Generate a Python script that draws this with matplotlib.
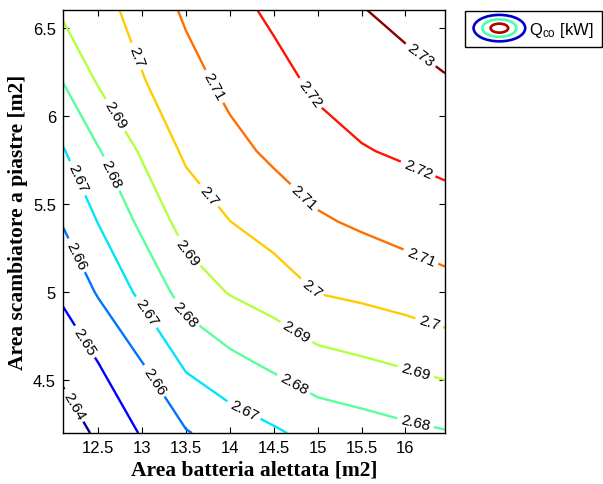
import numpy as np
import matplotlib
matplotlib.use('Agg')
import matplotlib.pyplot as plt
from matplotlib.ticker import FormatStrFormatter
from matplotlib.legend_handler import HandlerBase
from matplotlib.patches import Ellipse
from matplotlib.lines import Line2D

# griglia (area batteria alettata x area scambiatore a piastre)
area_batt = [12.1, 12.5, 13.0, 13.5, 14.0, 14.5, 15.0, 15.5, 16.0, 16.45]
area_scamb = [4.2, 4.6, 5.0, 5.4, 5.8, 6.2, 6.6]

# Q_co [kW], una riga per ogni valore di area_scamb
q_co = [
    [2.6343, 2.6417, 2.6508, 2.6593, 2.6645, 2.6686, 2.6732, 2.6753, 2.6776, 2.6793],
    [2.6430, 2.6500, 2.6599, 2.6717, 2.6774, 2.6820, 2.6866, 2.6888, 2.6911, 2.6935],
    [2.6518, 2.6609, 2.6724, 2.6841, 2.6906, 2.6946, 2.7003, 2.7021, 2.7043, 2.7067],
    [2.6607, 2.6703, 2.6822, 2.6941, 2.6999, 2.7044, 2.7088, 2.7114, 2.7139, 2.7158],
    [2.6693, 2.6792, 2.6913, 2.7017, 2.7072, 2.7118, 2.7160, 2.7194, 2.7213, 2.7230],
    [2.6803, 2.6910, 2.6994, 2.7066, 2.7126, 2.7167, 2.7220, 2.7246, 2.7270, 2.7294],
    [2.6917, 2.6964, 2.7038, 2.7114, 2.7168, 2.7219, 2.7269, 2.7296, 2.7327, 2.7351],
]

livelli = [2.64, 2.65, 2.66, 2.67, 2.68, 2.69, 2.70, 2.71, 2.72, 2.73]

# posizioni delle etichette delle curve
pos_etichette = [
    (12.20, 4.35), (12.32, 4.71),
    (12.22, 5.20), (13.12, 4.49),
    (12.24, 5.64), (13.00, 4.87), (14.16, 4.33),
    (12.64, 5.67), (13.44, 4.86), (14.74, 4.49), (16.11, 4.25),
    (12.68, 6.00), (13.48, 5.21), (14.74, 4.76), (16.11, 4.54),
    (12.89, 6.33), (13.69, 5.52), (14.91, 5.01), (16.26, 4.81),
    (13.76, 6.15), (14.81, 5.52), (16.15, 5.17),
    (14.89, 6.12), (16.11, 5.66),
    (16.18, 6.35),
]

plt.rcParams['font.family'] = ['Liberation Sans', 'DejaVu Sans']
plt.rcParams['mathtext.default'] = 'regular'

jet = plt.get_cmap('jet')
colori = [jet(p) for p in [0.02, 0.12, 0.24, 0.35, 0.46, 0.57, 0.695, 0.79, 0.89, 0.99]]

fig = plt.figure(figsize=(6.03, 4.85), dpi=100)
ax = fig.add_axes([0.1045, 0.105, 0.6335, 0.872])

X, Y = np.meshgrid(area_batt, area_scamb)
Z = np.array(q_co)
cs = ax.contour(X, Y, Z, levels=livelli, colors=colori, linewidths=1.7)
ax.clabel(cs, fmt='%g', manual=pos_etichette, inline=True, inline_spacing=4,
          fontsize=11, colors='k')

ax.set_xlim(area_batt[0], area_batt[-1])
ax.set_ylim(area_scamb[0], area_scamb[-1])
ax.set_xticks([12.5, 13, 13.5, 14, 14.5, 15, 15.5, 16])
ax.set_yticks([4.5, 5, 5.5, 6, 6.5])
ax.xaxis.set_major_formatter(FormatStrFormatter('%g'))
ax.yaxis.set_major_formatter(FormatStrFormatter('%g'))
ax.tick_params(direction='in', top=True, right=True, length=4, labelsize=12, pad=5)
for s in ax.spines.values():
    s.set_linewidth(1.0)

ax.set_xlabel('Area batteria alettata [m2]', family='Liberation Serif',
              fontweight='bold', fontsize=15.5, labelpad=3)
ax.set_ylabel('Area scambiatore a piastre [m2]', family='Liberation Serif',
              fontweight='bold', fontsize=15.5, labelpad=4)


# icona della legenda stile matlab: tre anelli
class HandlerAnelli(HandlerBase):
    def create_artists(self, legend, orig_handle, xdescent, ydescent,
                       width, height, fontsize, trans):
        cx = width / 2 - xdescent
        cy = height / 2 - ydescent
        out = []
        for f, c in zip([1.0, 0.66, 0.34], [jet(0.07), jet(0.44), jet(0.95)]):
            out.append(Ellipse((cx, cy), width * f, height * 1.5 * f, fill=False,
                               edgecolor=c, lw=1.9, transform=trans))
        return out


proxy = Line2D([], [])
leg = fig.legend([proxy], ['Q$_{co}$ [kW]'], loc='upper right',
                 bbox_to_anchor=(1.0, 0.977), handler_map={Line2D: HandlerAnelli()},
                 fancybox=False, edgecolor='k', framealpha=1, fontsize=12,
                 handlelength=3.1, handleheight=1.25, borderpad=0.5,
                 borderaxespad=0.05, handletextpad=0.25)
leg.get_frame().set_linewidth(1.0)

fig.savefig('out.png', dpi=100)
